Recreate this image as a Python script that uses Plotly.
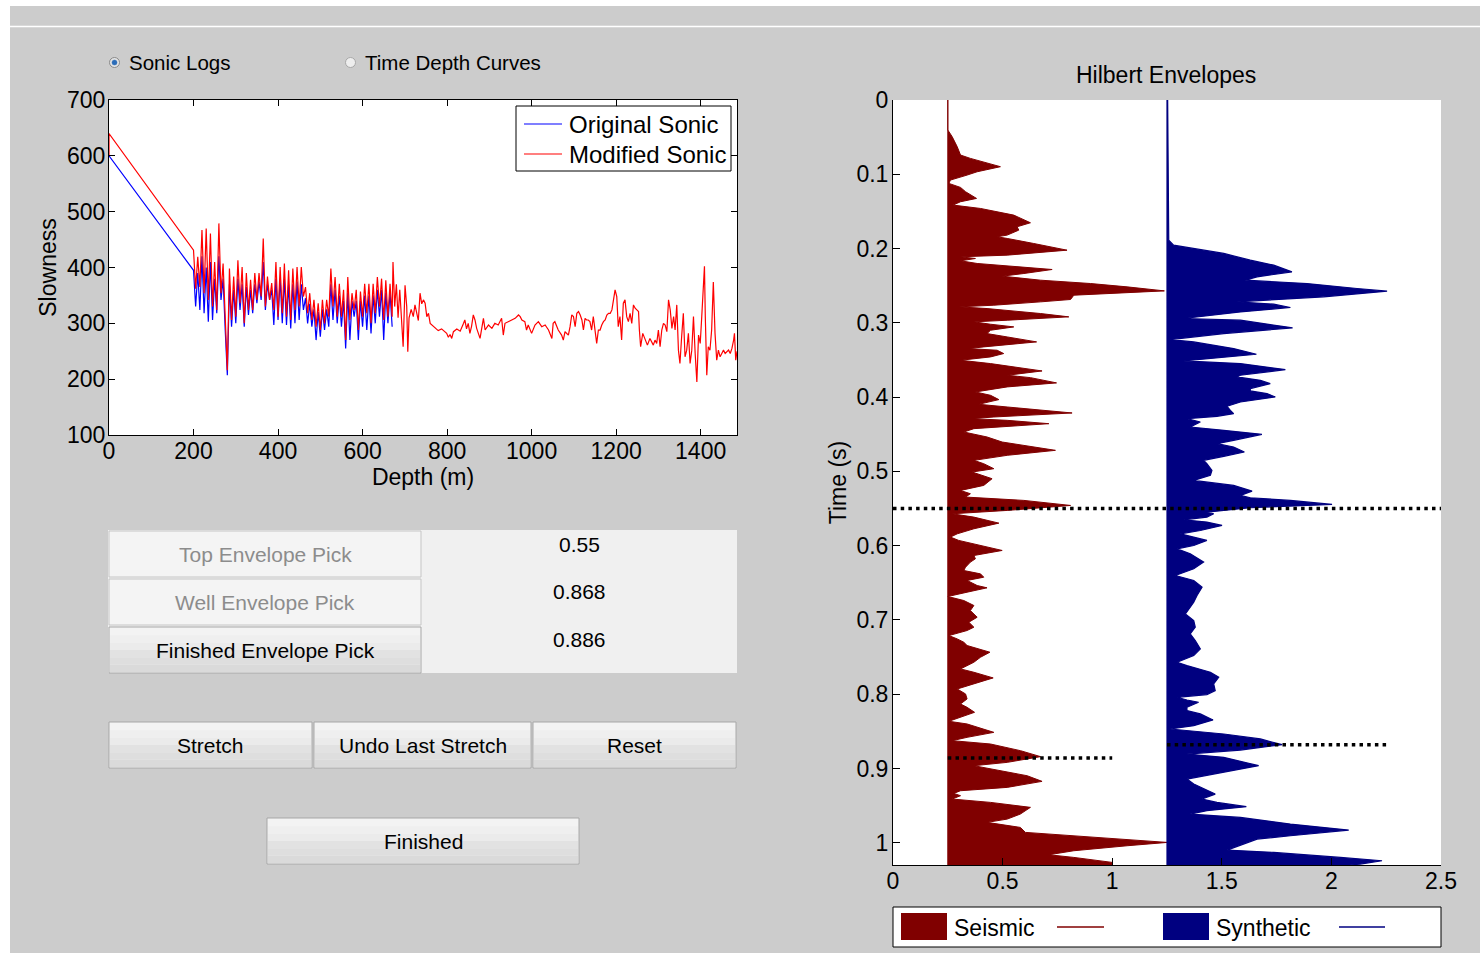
import plotly.graph_objects as go

W, H = 1480, 953
FONT = "Liberation Sans, Arial, sans-serif"

# ---------------- data: sonic logs ----------------
depth_head = [0, 200]
orig_head = [600, 395]
mod_head_depth = [0, 0]
mod_head = [600, 640]

depth_main = list(range(200, 675, 5))
orig_main = [395, 330, 390, 324, 420, 318, 400, 303, 410, 306,
             380, 318, 420, 342, 380, 288, 207, 370, 294, 360,
             300, 380, 324, 370, 294, 365, 315, 360, 318, 370,
             336, 375, 342, 410, 324, 370, 342, 360, 297, 380,
             306, 380, 300, 380, 297, 370, 291, 370, 300, 375,
             306, 370, 324, 345, 300, 335, 294, 325, 270, 320,
             276, 325, 288, 325, 294, 370, 306, 360, 300, 350,
             294, 340, 255, 355, 270, 340, 312, 340, 270, 340,
             294, 350, 288, 350, 282, 350, 300, 360, 312, 360,
             270, 355, 300, 355, 294]
mod_main = [431, 362, 419, 365, 467, 354, 470, 342, 461, 330,
            410, 324, 479, 354, 407, 306, 216, 398, 306, 384,
            312, 413, 336, 401, 300, 390, 324, 378, 324, 390,
            342, 390, 348, 452, 330, 384, 342, 372, 324, 410,
            312, 401, 318, 407, 312, 395, 306, 398, 324, 401,
            330, 401, 348, 365, 318, 354, 306, 342, 294, 336,
            288, 342, 300, 342, 312, 398, 330, 383, 312, 371,
            312, 360, 270, 383, 306, 354, 324, 360, 288, 357,
            312, 371, 318, 371, 300, 371, 318, 383, 330, 380,
            306, 377, 312, 371, 312]

mod_tail_depth = [672, 676, 680, 684, 688, 692, 696, 700.5, 704.5, 707, 710, 715, 720, 724, 728, 732,
                  736, 740, 744, 748, 752, 756, 760, 764, 771, 779, 787, 795, 799, 803, 807, 811,
                  815, 823, 831, 839, 842, 846, 850, 854, 858, 862, 866, 870, 878, 886, 890, 898,
                  906, 913, 921, 929, 933, 937, 945, 953, 961, 969, 973, 977, 984, 988, 992, 1000,
                  1008, 1016, 1024, 1032, 1040, 1048, 1051, 1055, 1063, 1071, 1075, 1079, 1087, 1091,
                  1095, 1099, 1103, 1107, 1111, 1115, 1119, 1122.6, 1126.5, 1130, 1134, 1138, 1142,
                  1146, 1150, 1154, 1158, 1162, 1166, 1170, 1174, 1178, 1182, 1186, 1190, 1193.6,
                  1197.5, 1201.5, 1205, 1209, 1213, 1217, 1221, 1225, 1229, 1233, 1237, 1241, 1245,
                  1249, 1253, 1255, 1258, 1263, 1268.5, 1274, 1280, 1284, 1288, 1292, 1296, 1300,
                  1304, 1308, 1312, 1316, 1320, 1324, 1328, 1332, 1336, 1339.5, 1343.5, 1347.4, 1351,
                  1355, 1359, 1363, 1367, 1371, 1375, 1379, 1383, 1387, 1391, 1395, 1399, 1402.6,
                  1406.6, 1409, 1411, 1414.5, 1418, 1422, 1426, 1430, 1434, 1438, 1442, 1446, 1450,
                  1454, 1458, 1462, 1466, 1470, 1474, 1478, 1480, 1483, 1486]
mod_tail = [410, 330, 370, 310, 360, 300, 258, 368, 330, 249, 310, 325, 312, 333, 320, 305,
            354, 335, 342, 336, 312, 318, 300, 297, 292, 287, 290, 285, 282, 275, 280, 273,
            285, 290, 286, 300, 306, 290, 300, 282, 295, 315, 306, 291, 273, 309, 288, 297,
            291, 300, 297, 309, 279, 300, 303, 306, 309, 315, 312, 306, 303, 288, 297, 282,
            297, 303, 294, 297, 288, 273, 300, 303, 288, 279, 270, 285, 279, 294,
            315, 312, 294, 318, 321, 315, 306, 288, 309, 306, 306, 303, 288,
            312, 282, 264, 288, 288, 297, 303, 306, 315, 318, 318, 324, 342,
            360, 348, 294, 312, 270, 336, 342, 312, 303, 318, 300, 333, 327,
            324, 321, 288, 258, 282, 270, 261, 273, 267, 261, 270, 264, 288,
            258, 288, 300, 297, 285, 342, 324, 291, 312, 288, 333, 252, 228,
            276, 318, 240, 252, 282, 228, 252, 312, 246, 195, 279, 264, 312,
            360, 402, 312, 207, 258, 252, 288, 374, 282, 234, 252, 240, 246,
            252, 246, 249, 252, 246, 255, 270, 282, 234, 250]

orig_depth = depth_head + depth_main[1:]
orig_slow = orig_head + orig_main[1:]
mod_depth = mod_head_depth + depth_main + mod_tail_depth
mod_slow = mod_head + mod_main + mod_tail

# ---------------- data: Hilbert envelopes ----------------
seis_offset = 0.25
syn_offset = 1.25
seis_t = [0.000, 0.0404, 0.0494, 0.0629, 0.0741, 0.0786, 0.0898, 0.0966, 0.1011, 0.1078, 0.1123,
          0.1177, 0.1235, 0.1325, 0.1370, 0.1415, 0.1460, 0.1550, 0.1653, 0.1707, 0.1752, 0.1819,
          0.1842, 0.1864, 0.1932, 0.2022, 0.2089, 0.2111, 0.2134, 0.2165, 0.2201, 0.2246, 0.2282,
          0.2336, 0.2372, 0.2426, 0.2471, 0.2516, 0.2570, 0.2628, 0.2686, 0.2718, 0.2763, 0.2785,
          0.2808, 0.2875, 0.2920, 0.2965, 0.2987, 0.3019, 0.3055, 0.3100, 0.3145, 0.3190, 0.3257,
          0.3324, 0.3347, 0.3369, 0.3414, 0.3459, 0.3504, 0.3549, 0.3648, 0.3706, 0.3738, 0.3809,
          0.3863, 0.3931, 0.3976, 0.4034, 0.4097, 0.4133, 0.4214, 0.4268, 0.4290, 0.4313, 0.4358,
          0.4425, 0.4470, 0.4537, 0.4605, 0.4717, 0.4784, 0.4852, 0.4897, 0.4964, 0.5009,
          0.5099, 0.5189, 0.5257, 0.5301, 0.5346, 0.5391, 0.5459, 0.5526, 0.5571, 0.5616, 0.5697,
          0.5773, 0.5841, 0.5885, 0.5930, 0.5998, 0.6065, 0.6133, 0.6177, 0.6222, 0.6290, 0.6335,
          0.6380, 0.6425, 0.6469, 0.6537, 0.6568, 0.6627, 0.6685, 0.6739, 0.6806, 0.6874, 0.6964,
          0.7031, 0.7098, 0.7143, 0.7211, 0.7256, 0.7301, 0.7345, 0.7435, 0.7503, 0.7570, 0.7660,
          0.7705, 0.7781, 0.7862, 0.7930, 0.7997, 0.8064, 0.8132, 0.8177, 0.8244, 0.8311, 0.8365,
          0.8401, 0.8514, 0.8581, 0.8626, 0.8671, 0.8761, 0.8841, 0.8918, 0.8963, 0.9008, 0.9098,
          0.9174, 0.9255, 0.9300, 0.9336, 0.9367, 0.9412, 0.9457, 0.9524, 0.9614, 0.9682, 0.9726,
          0.9794, 0.9861, 0.9906, 0.9951, 0.9996, 1.0041, 1.0108, 1.0162, 1.0198, 1.0265, 1.0310]
seis_amp = [0.000, 0.000, 0.020, 0.043, 0.058, 0.103, 0.240, 0.134, 0.088, 0.012, 0.005,
            0.058, 0.081, 0.131, 0.058, 0.024, 0.149, 0.301, 0.377, 0.316, 0.324, 0.271,
            0.225, 0.271, 0.392, 0.544, 0.271, 0.058, 0.126, 0.058, 0.134, 0.316, 0.476,
            0.347, 0.248, 0.423, 0.651, 0.818, 0.988, 0.575, 0.560, 0.423, 0.210, 0.050,
            0.179, 0.423, 0.552, 0.271, 0.119, 0.195, 0.301, 0.195, 0.179, 0.271, 0.405,
            0.164, 0.096, 0.225, 0.255, 0.195, 0.058, 0.195, 0.430, 0.271, 0.377, 0.496,
            0.271, 0.126, 0.195, 0.233, 0.141, 0.271, 0.567, 0.210, 0.111, 0.271, 0.461,
            0.119, 0.073, 0.179, 0.248, 0.491, 0.271, 0.119, 0.164, 0.210, 0.111,
            0.202, 0.164, 0.058, 0.103, 0.081, 0.347, 0.560, 0.271, 0.020, 0.119, 0.233,
            0.119, 0.043, 0.012, 0.050, 0.149, 0.248, 0.119, 0.126, 0.103, 0.081, 0.073,
            0.149, 0.164, 0.088, 0.134, 0.179, 0.088, 0.000, 0.073, 0.119, 0.103, 0.134,
            0.096, 0.119, 0.088, 0.005, 0.043, 0.073, 0.088, 0.192, 0.149, 0.119, 0.058,
            0.119, 0.207, 0.119, 0.043, 0.081, 0.088, 0.058, 0.088, 0.122, 0.058, 0.005,
            0.088, 0.210, 0.088, 0.020, 0.195, 0.332, 0.423, 0.271, 0.119, 0.195, 0.362,
            0.430, 0.271, 0.058, 0.027, 0.058, 0.020, 0.195, 0.377, 0.331, 0.271, 0.179,
            0.331, 0.354, 0.575, 0.818, 1.001, 0.818, 0.575, 0.461, 0.575, 0.750, 0.750]

syn_t = [0.000, 0.1887, 0.1954, 0.1999, 0.2066, 0.2156, 0.2224, 0.2314, 0.2381, 0.2426, 0.2471,
         0.2538, 0.2574, 0.2650, 0.2695, 0.2718, 0.2749, 0.2794, 0.2853, 0.2942, 0.2965, 0.3068,
         0.3145, 0.3226, 0.3257, 0.3347, 0.3423, 0.3482, 0.3513, 0.3549, 0.3630, 0.3706, 0.3729,
         0.3774, 0.3819, 0.3886, 0.3917, 0.3953, 0.3998, 0.4066, 0.4124, 0.4178, 0.4223, 0.4259,
         0.4290, 0.4335, 0.4380, 0.4403, 0.4447, 0.4501, 0.4582, 0.4627, 0.4672, 0.4739, 0.4798,
         0.4852, 0.4897, 0.4964,
         0.4987, 0.5054, 0.5122, 0.5189, 0.5266, 0.5324, 0.5355, 0.5391, 0.5445, 0.5490, 0.5549,
         0.5571, 0.5616, 0.5652, 0.5683, 0.5728, 0.5796, 0.5841, 0.5876, 0.5930, 0.5998, 0.6043,
         0.6110, 0.6222, 0.6312, 0.6402, 0.6469, 0.6559, 0.6672, 0.6761, 0.6829, 0.6919, 0.7009,
         0.7098, 0.7188, 0.7278, 0.7390, 0.7480, 0.7570, 0.7615, 0.7705, 0.7772, 0.7862, 0.7952,
         0.8006, 0.8042, 0.8078, 0.8109, 0.8177, 0.8221, 0.8266, 0.8347, 0.8424, 0.8469, 0.8536,
         0.8603, 0.8680, 0.8752, 0.8806, 0.8850, 0.8963, 0.9053, 0.9143, 0.9210, 0.9345, 0.9412,
         0.9457, 0.9515, 0.9569, 0.9614, 0.9659, 0.9749, 0.9830, 0.9906, 0.9951, 1.0099, 1.0131,
         1.0198, 1.0243, 1.0288, 1.0310]
syn_amp = [0.003, 0.008, 0.030, 0.122, 0.259, 0.380, 0.487, 0.570, 0.411, 0.357, 0.639,
           0.867, 1.004, 0.715, 0.411, 0.319, 0.487, 0.563, 0.335, 0.076, 0.335, 0.573,
           0.259, 0.015, 0.122, 0.304, 0.408, 0.182, 0.076, 0.335, 0.540, 0.335, 0.319,
           0.426, 0.471, 0.380, 0.380, 0.456, 0.494, 0.335, 0.274, 0.289, 0.304, 0.228,
           0.091, 0.152, 0.122, 0.106, 0.259, 0.433, 0.304, 0.228, 0.304, 0.353, 0.259,
           0.167, 0.182, 0.198,
           0.205, 0.198, 0.122, 0.304, 0.388, 0.335, 0.380, 0.563, 0.753, 0.380, 0.182,
           0.213, 0.182, 0.076, 0.182, 0.251, 0.152, 0.061, 0.106, 0.182, 0.122, 0.046,
           0.106, 0.167, 0.122, 0.038, 0.122, 0.160, 0.137, 0.122, 0.106, 0.084, 0.122,
           0.129, 0.106, 0.129, 0.152, 0.122, 0.046, 0.091, 0.198, 0.236, 0.213, 0.220,
           0.182, 0.046, 0.091, 0.144, 0.091, 0.091, 0.152, 0.210, 0.122, 0.015, 0.259,
           0.426, 0.525, 0.335, 0.091, 0.259, 0.418, 0.259, 0.091, 0.122, 0.220, 0.160,
           0.228, 0.362, 0.182, 0.106, 0.335, 0.563, 0.829, 0.563, 0.411, 0.274, 0.487,
           0.791, 0.981, 0.882, 0.791]

# envelope picks (s)
top_pick = 0.55
seis_pick = 0.886
syn_pick = 0.868
pick_labels = ["0.55", "0.868", "0.886"]

# ---------------- helpers (pixel -> paper) ----------------
def X(p):
    return p / W


def Y(p):
    return 1 - p / H


shapes = []
annotations = []


def rect(x0, y0, x1, y1, fill, line=None, lw=1, layer="above"):
    shapes.append(dict(type="rect", xref="paper", yref="paper",
                       x0=X(x0), x1=X(x1), y0=Y(y1), y1=Y(y0),
                       fillcolor=fill, layer=layer,
                       line=dict(color=line if line else fill, width=lw if line else 0)))


def hline(x0, x1, y, color, lw=1):
    shapes.append(dict(type="line", xref="paper", yref="paper",
                       x0=X(x0), x1=X(x1), y0=Y(y), y1=Y(y), layer="above",
                       line=dict(color=color, width=lw)))


def circle(cx, cy, r, fill, line, lw=1):
    shapes.append(dict(type="circle", xref="paper", yref="paper",
                       x0=X(cx - r), x1=X(cx + r), y0=Y(cy + r), y1=Y(cy - r),
                       fillcolor=fill, layer="above", line=dict(color=line, width=lw)))


def text(t, x, y, size, color="black", xanchor="center"):
    annotations.append(dict(text=t, xref="paper", yref="paper", x=X(x), y=Y(y),
                            xanchor=xanchor, yanchor="middle", showarrow=False,
                            font=dict(family=FONT, size=size, color=color)))


GRAD = ["#f3f3f3", "#efefef", "#ebebeb", "#e2e2e2", "#dedede", "#dadada"]


def button(x0, y0, x1, y1, label, enabled=True, size=21):
    if enabled:
        rect(x0, y0, x1, y1, GRAD[0], "#a7a7a7")
        n = len(GRAD)
        h = (y1 - y0 - 2) / n
        for i, c in enumerate(GRAD):
            rect(x0 + 1, y0 + 1 + i * h, x1 - 1, y0 + 1 + (i + 1) * h, c)
        text(label, (x0 + x1) / 2, (y0 + y1) / 2, size, "black")
    else:
        rect(x0, y0, x1, y1, "#f4f4f4", "#c6c6c6")
        text(label, (x0 + x1) / 2, (y0 + y1) / 2, size, "#8c8c8c")


# window frame
rect(0, 0, 1480, 6, "white")
rect(0, 0, 10, 953, "white")
hline(10, 1480, 26.5, "white", 1.5)

# radio buttons
circle(114.5, 62.5, 5, "#e4e4e4", "#8a8a8a")
circle(114.5, 62.5, 2.5, "#2b6cb8", "#2b6cb8", 0.5)
text("Sonic Logs", 127, 62.5, 20.5, xanchor="left")
circle(350.5, 62.5, 5, "#eeeeee", "#a8a8a8")
text("Time Depth Curves", 363, 62.5, 20.5, xanchor="left")

# picks panel
rect(108, 530, 737, 673, "#f0f0f0")
button(109, 531, 421, 577, "Top Envelope Pick", enabled=False)
button(109, 579, 421, 625, "Well Envelope Pick", enabled=False)
button(109, 627, 421, 673, "Finished Envelope Pick", enabled=True)
for lab, yy in zip(pick_labels, [544, 591, 639]):
    text(lab, 579, yy, 21)

button(109, 722, 312, 768, "Stretch")
button(314, 722, 531, 768, "Undo Last Stretch")
button(533, 722, 736, 768, "Reset")
button(267, 818, 579, 864, "Finished")

# sonic legend
rect(516, 106, 731, 171, "white", "black", 1)
hline(524, 562, 124, "#0000ff", 1.2)
hline(524, 562, 154, "#ff0000", 1.2)
text("Original Sonic", 567, 124, 24, xanchor="left")
text("Modified Sonic", 567, 154, 24, xanchor="left")

# envelope legend
rect(893, 907, 1441, 947, "white", "black", 1)
rect(901, 913, 947, 940, "#800000")
text("Seismic", 952, 928, 23, xanchor="left")
hline(1057, 1104, 927, "#800000", 1.4)
rect(1163, 913, 1209, 940, "#000080")
text("Synthetic", 1214, 928, 23, xanchor="left")
hline(1339, 1385, 927, "#000080", 1.4)

# title of right axes
text("Hilbert Envelopes", 1166, 75, 23)

# ---------------- traces ----------------
fig = go.Figure()
fig.add_trace(go.Scatter(x=orig_depth, y=orig_slow, mode="lines", name="Original Sonic",
                         line=dict(color="#0000ff", width=1.2), showlegend=False,
                         xaxis="x", yaxis="y"))
fig.add_trace(go.Scatter(x=mod_depth, y=mod_slow, mode="lines", name="Modified Sonic",
                         line=dict(color="#ff0000", width=1.2), showlegend=False,
                         xaxis="x", yaxis="y"))

seis_x = [seis_offset + a for a in seis_amp] + [seis_offset, seis_offset]
seis_y = seis_t + [seis_t[-1], seis_t[0]]
syn_x = [syn_offset + a for a in syn_amp] + [syn_offset, syn_offset]
syn_y = syn_t + [syn_t[-1], syn_t[0]]
fig.add_trace(go.Scatter(x=seis_x, y=seis_y, mode="lines", fill="toself", name="Seismic",
                         fillcolor="#800000", line=dict(color="#800000", width=1),
                         showlegend=False, xaxis="x2", yaxis="y2"))
fig.add_trace(go.Scatter(x=syn_x, y=syn_y, mode="lines", fill="toself", name="Synthetic",
                         fillcolor="#000080", line=dict(color="#000080", width=1.2),
                         showlegend=False, xaxis="x2", yaxis="y2"))

dot = dict(color="black", width=3.5, dash="3.5px,4.2px")
fig.add_trace(go.Scatter(x=[0, 2.5], y=[top_pick, top_pick], mode="lines", line=dot,
                         showlegend=False, xaxis="x2", yaxis="y2"))
fig.add_trace(go.Scatter(x=[seis_offset, seis_offset + 0.75], y=[seis_pick, seis_pick], mode="lines",
                         line=dot, showlegend=False, xaxis="x2", yaxis="y2"))
fig.add_trace(go.Scatter(x=[syn_offset, syn_offset + 1.0], y=[syn_pick, syn_pick], mode="lines",
                         line=dot, showlegend=False, xaxis="x2", yaxis="y2"))

axis_common = dict(showgrid=False, zeroline=False, showline=True, linecolor="black", linewidth=1,
                   ticks="inside", tickcolor="black", tickwidth=1, automargin=False,
                   tickfont=dict(family=FONT, size=23, color="black"))

fig.update_layout(
    width=W, height=H, autosize=False,
    margin=dict(l=0, r=0, t=0, b=0, pad=0, autoexpand=False),
    paper_bgcolor="#cccccc", plot_bgcolor="white",
    font=dict(family=FONT, color="black"),
    showlegend=False,
    xaxis=dict(domain=[X(109), X(737)], range=[0, 1486], anchor="y",
               tickvals=[0, 200, 400, 600, 800, 1000, 1200, 1400], ticklen=6, mirror="allticks",
               ticklabelstandoff=-5,
               title=dict(text="Depth (m)", font=dict(family=FONT, size=23), standoff=2),
               **axis_common),
    yaxis=dict(domain=[Y(435), Y(100)], range=[100, 700], anchor="x",
               tickvals=[100, 200, 300, 400, 500, 600, 700], ticklen=6, mirror="allticks",
               ticklabelstandoff=-2,
               title=dict(text="Slowness", font=dict(family=FONT, size=23), standoff=3),
               **axis_common),
    xaxis2=dict(domain=[X(893), X(1441)], range=[0, 2.5], anchor="y2",
                tickvals=[0, 0.5, 1, 1.5, 2, 2.5], ticktext=["0", "0.5", "1", "1.5", "2", "2.5"],
                ticklen=7, ticklabelstandoff=-5, **axis_common),
    yaxis2=dict(domain=[Y(865), Y(100)], range=[1.03, 0], anchor="x2",
                tickvals=[0, 0.1, 0.2, 0.3, 0.4, 0.5, 0.6, 0.7, 0.8, 0.9, 1.0],
                ticktext=["0", "0.1", "0.2", "0.3", "0.4", "0.5", "0.6", "0.7", "0.8", "0.9", "1"],
                ticklen=7, ticklabelstandoff=-1,
                title=dict(text="Time (s)", font=dict(family=FONT, size=23), standoff=3),
                **axis_common),
    shapes=shapes,
    annotations=annotations,
)

fig.write_html("out.html", config={"displayModeBar": False},
               post_script="document.body.style.margin='0px';document.body.style.overflow='hidden';")
